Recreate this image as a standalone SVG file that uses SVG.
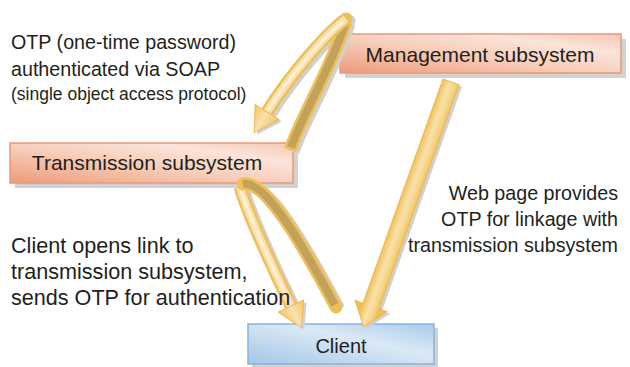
<svg xmlns="http://www.w3.org/2000/svg" width="630" height="367" viewBox="0 0 630 367">
  <defs>
    <style>
      .lbl { font-family: "Liberation Sans", Arial, sans-serif; fill: #231f20; }
      .box-lbl { font-size: 21px; text-anchor: middle; }
      .note { font-size: 19.7px; }
      .note-big { font-size: 21.6px; }
      .shadow { fill: #d2d2d2; }
      .salmon { fill: url(#gSalmon); stroke: #e99878; stroke-width: 1.5; }
      .blue { fill: url(#gBlue); stroke: #86b5de; stroke-width: 1.5; }
      .band-out { fill: none; stroke: #efc058; stroke-width: 13; }
      .band-light { fill: none; stroke: #f9e1ad; stroke-width: 8; }
      .band-hi { fill: none; stroke: #fcefd4; stroke-width: 3; }
      .band-dark { fill: none; stroke: #c2a25b; stroke-width: 8; }
      .band-shadow { fill: none; stroke: #d0d0d0; stroke-width: 13; }
      .head { fill: url(#gHead); stroke: #eeba50; stroke-width: 1; }
      .head-shadow { fill: #d0d0d0; }
    </style>
    <linearGradient id="gSalmon" x1="0" y1="1" x2="1" y2="0">
      <stop offset="0" stop-color="#ee9a7a"/>
      <stop offset="0.45" stop-color="#f7cdb9"/>
      <stop offset="0.75" stop-color="#fbe4d9"/>
      <stop offset="1" stop-color="#f6c9b5"/>
    </linearGradient>
    <linearGradient id="gBlue" x1="0" y1="1" x2="1" y2="0">
      <stop offset="0" stop-color="#a4c7e8"/>
      <stop offset="0.4" stop-color="#c9ddf1"/>
      <stop offset="0.6" stop-color="#dbe9f6"/>
      <stop offset="1" stop-color="#a9cbea"/>
    </linearGradient>
    <linearGradient id="gHead" x1="0" y1="0" x2="1" y2="0">
      <stop offset="0" stop-color="#f2c662"/>
      <stop offset="0.5" stop-color="#f9e1ad"/>
      <stop offset="1" stop-color="#f2c662"/>
    </linearGradient>
    <linearGradient id="gShaft" gradientUnits="userSpaceOnUse" x1="-9" y1="0" x2="9" y2="0">
      <stop offset="0" stop-color="#f0bf55"/>
      <stop offset="0.45" stop-color="#f9e1ac"/>
      <stop offset="0.8" stop-color="#f5d27f"/>
      <stop offset="1" stop-color="#efbd52"/>
    </linearGradient>
    <!-- straight arrow, tip at origin, pointing along +y -->
    <path id="straightArrow" d="M-8.5,-260 L8.5,-260 L8.5,-22 L17,-22 L0,0 L-17,-22 L-8.5,-22 Z"/>
    <!-- arrowhead, tip at origin, pointing along +y -->
    <path id="head" d="M-14,-24 L14,-24 L0,0 Z"/>
  </defs>

  <!-- nodes -->
  <g id="management">
    <rect class="shadow" x="345" y="39" width="281" height="39"/>
    <rect class="salmon" x="340" y="34" width="281" height="39"/>
    <text class="lbl box-lbl" x="480" y="62">Management subsystem</text>
  </g>
  <g id="transmission">
    <rect class="shadow" x="15" y="148" width="283" height="40"/>
    <rect class="salmon" x="10" y="143" width="283" height="40"/>
    <text class="lbl box-lbl" x="147" y="170">Transmission subsystem</text>
  </g>
  <g id="client">
    <rect class="shadow" x="252" y="328" width="186" height="40"/>
    <rect class="blue" x="248" y="324" width="186" height="40"/>
    <text class="lbl" x="341" y="353" font-size="20" text-anchor="middle">Client</text>
  </g>

  <!-- connectors -->
  <g id="connectors">
    <!-- SOAP loop: transmission -> management -> transmission -->
    <g id="soap-loop">
      <g transform="translate(3,2)">
        <path class="band-shadow" d="M290,150 C300,120 330,70 346,22"/>
        <path class="band-shadow" stroke-linecap="round" d="M346,19 C330,30 292,72 267,112"/>
        <use class="head-shadow" href="#head" transform="translate(254.3,132.4) rotate(31.9)"/>
      </g>
      <path class="band-out" d="M290,150 C300,120 330,70 346,22"/>
      <path class="band-dark" d="M291,147.5 C301,118 330,70 346,22"/>
      <path class="band-out" stroke-linecap="round" d="M346,19 C330,30 292,72 267,112"/>
      <path class="band-light" d="M346,19 C330,30 292,72 267,112"/>
      <path class="band-hi" d="M343,22 C328,33 292,72 268,110"/>
      <use class="head" href="#head" transform="translate(254.3,132.4) rotate(31.9)"/>
    </g>

    <!-- client loop: transmission -> client -->
    <g id="client-loop">
      <g transform="translate(3,2)">
        <path class="band-shadow" d="M243,184 C265,180 300,240 336,307"/>
        <path class="band-shadow" d="M240,187 C248,215 270,262 291,306"/>
        <use class="head-shadow" href="#head" transform="translate(301.3,327.7) rotate(-25.5)"/>
      </g>
      <path class="band-out" d="M240,187 C248,215 270,262 291,306"/>
      <path class="band-light" d="M240,187 C248,215 270,262 291,306"/>
      <path class="band-hi" d="M241,190 C249,216 270,262 290,304"/>
      <path class="band-out" stroke-linecap="round" d="M243,184 C265,180 300,240 336,307"/>
      <path class="band-dark" d="M243,184 C265,180 300,240 334.8,304.8"/>
      <use class="head" href="#head" transform="translate(301.3,327.7) rotate(-25.5)"/>
    </g>

    <!-- web page: management -> client -->
    <g id="webpage-arrow">
      <use class="head-shadow" href="#straightArrow" transform="translate(366.6,328.7) rotate(19.65)"/>
      <use href="#straightArrow" transform="translate(363.6,326.7) rotate(19.65)" fill="url(#gShaft)" stroke="#eeba50" stroke-width="1"/>
    </g>
  </g>

  <!-- annotations -->
  <g id="notes">
    <text class="lbl note" x="11" y="49">OTP (one-time password)</text>
    <text class="lbl note" x="11" y="76">authenticated via SOAP</text>
    <text class="lbl" x="11" y="100" font-size="17.5">(single object access protocol)</text>

    <text class="lbl note-big" x="11" y="253">Client opens link to</text>
    <text class="lbl note-big" x="11" y="279">transmission subsystem,</text>
    <text class="lbl note-big" x="11" y="305">sends OTP for authentication</text>

    <text class="lbl note" x="618" y="200" text-anchor="end">Web page provides</text>
    <text class="lbl note" x="618" y="226" text-anchor="end">OTP for linkage with</text>
    <text class="lbl note" x="618" y="252" text-anchor="end">transmission subsystem</text>
  </g>
</svg>
